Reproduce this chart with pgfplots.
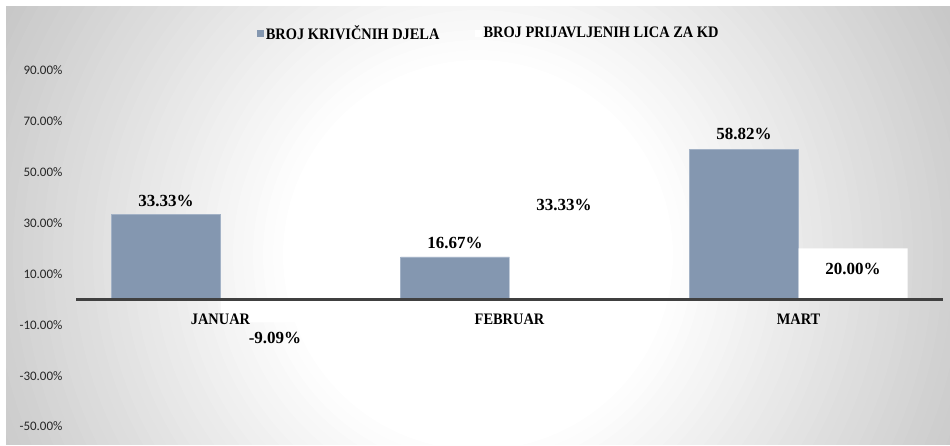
\documentclass[border=0pt]{standalone}
\usepackage{fontspec}
\setmainfont{Liberation Serif}
\newfontfamily\legfont[FakeStretch=0.9]{Liberation Serif Bold}
\newfontfamily\lblfont{Liberation Serif Bold}
\newfontfamily\tickfont{Carlito}
\usepackage{pgfplots}
\pgfplotsset{compat=1.18}

\definecolor{barblue}{HTML}{8497B0}
\definecolor{baredge}{HTML}{A3B2C6}
\definecolor{bggrey}{HTML}{C6C6C6}
\definecolor{axisgrey}{HTML}{404040}

% per point: value and label shift
\pgfplotstableread{
x y dy
0 33.33 4
1 16.67 4
2 58.82 6
}\krivicna
\pgfplotstableread{
x y dy
0 -9.09 -6
1 33.33 0
2 20.00 -30
}\prijavljeni

\begin{document}
\begin{tikzpicture}[x=1pt,y=1pt]
\useasboundingbox (0,0) rectangle (950,446);
\fill[white] (0,0) rectangle (950,446);
% chart area background: radial fade from white to grey, in rings
\begin{scope}
  \clip (6,1) rectangle (950,439);
  \fill[bggrey] (6,1) rectangle (950,439);
  \foreach \i in {0,...,35} {
    \pgfmathsetmacro\r{545-\i*10}
    \pgfmathsetmacro\p{100-\i*100/35}
    \fill[bggrey!\p!white] (478,191) circle (\r);
  }
\end{scope}

\begin{axis}[
  at={(76pt,9.3pt)}, anchor=south west,
  scale only axis,
  width=867pt, height=379pt,
  xmin=-0.5, xmax=2.5,
  ymin=-54, ymax=95,
  axis on top,
  ybar=0pt, bar width=109pt,
  axis x line*=middle,
  axis y line*=left,
  y axis line style={draw=none},
  x axis line style={line width=2.4pt, color=axisgrey},
  major tick length=0pt,
  xtick={0,1,2},
  xticklabels={JANUAR,FEBRUAR,MART},
  xticklabel style={font=\legfont\fontsize{16}{16}\selectfont, yshift=-11pt},
  ytick={-50,-30,...,90},
  yticklabel={\pgfmathprintnumber[fixed,fixed zerofill,precision=2]{\tick}\%},
  yticklabel style={font=\tickfont\fontsize{13}{13}\selectfont, text=black!85, xshift=-10pt},
  /pgf/number format/assume math mode=true,
  nodes near coords={\pgfmathprintnumber[fixed,fixed zerofill,precision=2]{\pgfplotspointmeta}\%},
  visualization depends on={\thisrow{dy} \as \dy},
  every node near coord/.append style={font=\lblfont\fontsize{17}{17}\selectfont, text=black, yshift=\dy pt},
  legend columns=2,
  legend style={at={(0.476,1.065)}, anchor=center, draw=none, fill=none,
    font=\legfont\fontsize{16}{16}\selectfont,
    nodes={inner sep=1.5pt},
    /tikz/every even column/.append style={column sep=34pt}},
  legend image code/.code={\fill[#1,draw=none] (0pt,-3.5pt) rectangle (7pt,3.5pt);},
]
\addplot[fill=barblue, draw=baredge, line width=0.8pt] table[x=x,y=y] {\krivicna};
\addlegendentry{\legfont\fontsize{16}{16}\selectfont BROJ KRIVIČNIH DJELA}
\addplot[fill=white, draw=none] table[x=x,y=y] {\prijavljeni};
\addlegendentry{\legfont\fontsize{16}{16}\selectfont BROJ PRIJAVLJENIH LICA ZA KD}
\end{axis}
\end{tikzpicture}
\end{document}
